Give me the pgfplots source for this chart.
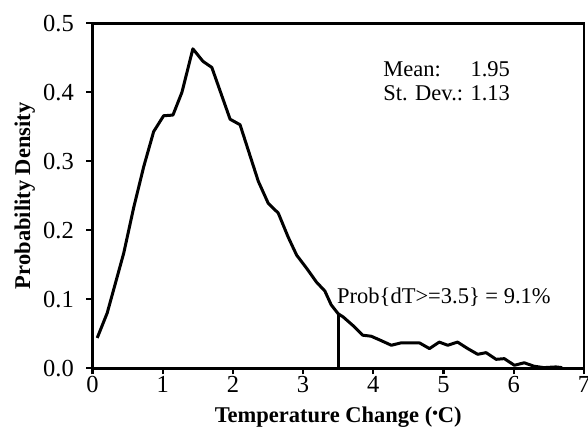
\documentclass[border=0pt]{standalone}
\usepackage{pgfplots}
\pgfplotsset{compat=1.18}
\usepackage{fontspec}
\setmainfont{Liberation Serif}
\begin{document}
\fontsize{22.5bp}{24.3bp}\selectfont
\begin{tikzpicture}[x=1bp,y=1bp]
\begin{axis}[
  at={(0,0)}, anchor=south west,
  scale only axis, width=491.4bp, height=345bp,
  xmin=0, xmax=7, ymin=0, ymax=0.5,
  clip=false,
  axis line style={line width=2.5bp, black},
  xtick={0,1,...,7}, ytick={0,0.1,0.2,0.3,0.4,0.5},
  xtick pos=lower, ytick pos=left, tick align=outside,
  major tick length=6bp,
  tick style={line width=2.2bp, black},
  /pgf/number format/assume math mode=true,
  tick label style={font=\fontsize{24.5bp}{26bp}\selectfont},
  yticklabel style={/pgf/number format/fixed, /pgf/number format/fixed zerofill, /pgf/number format/precision=1, xshift=-5bp},
  xticklabel style={inner ysep=2bp},
]
\addplot[line width=3bp, black, line join=round] coordinates {
(0.067,0.044) (0.209,0.080) (0.445,0.167) (0.587,0.233) (0.729,0.292)
(0.871,0.343) (1.013,0.366) (1.146,0.367) (1.274,0.400) (1.430,0.463)
(1.572,0.445) (1.700,0.436) (1.960,0.361) (2.102,0.353) (2.362,0.271)
(2.504,0.239) (2.646,0.225) (2.788,0.190) (2.908,0.164) (3.05,0.145)
(3.19,0.125) (3.31,0.112) (3.40,0.092) (3.50,0.079) (3.57,0.0745)
(3.71,0.062) (3.85,0.048) (3.97,0.0465) (4.115,0.040) (4.257,0.0334)
(4.40,0.037) (4.66,0.0367) (4.80,0.0286) (4.94,0.038) (5.06,0.0334)
(5.20,0.038) (5.345,0.0286) (5.487,0.0203) (5.607,0.0227) (5.749,0.013)
(5.866,0.014) (6.01,0.0044) (6.15,0.008) (6.29,0.003) (6.43,0.001)
(6.60,0.002) (6.69,0.001)
};
\addplot[line width=3bp, black] coordinates {(3.5,0) (3.5,0.079)};
\node[anchor=base west, inner sep=0pt] at (axis cs:4.14,0.3874)
  {\begin{tabular}[b]{@{}l@{}}Mean:\hfill 1.95\\St. Dev.: 1.13\end{tabular}};
\node[anchor=base west, inner sep=0pt] at (axis cs:3.483,0.0942)
  {Prob\{dT>=3.5\} = 9.1\%};
\node[anchor=base, inner sep=0pt, font=\bfseries] at (axis cs:3.5,-0.0788)
  {Temperature Change ({\fontsize{16bp}{16bp}\selectfont\raisebox{0.6ex}{\textbullet}}C)};
\node[anchor=base, inner sep=0pt, font=\bfseries, rotate=90] at (axis cs:-0.89,0.25)
  {Probability Density};
\end{axis}
\pgfresetboundingbox
\path (-92.5,-60.7) rectangle (495.5,368.3);
\end{tikzpicture}
\end{document}
